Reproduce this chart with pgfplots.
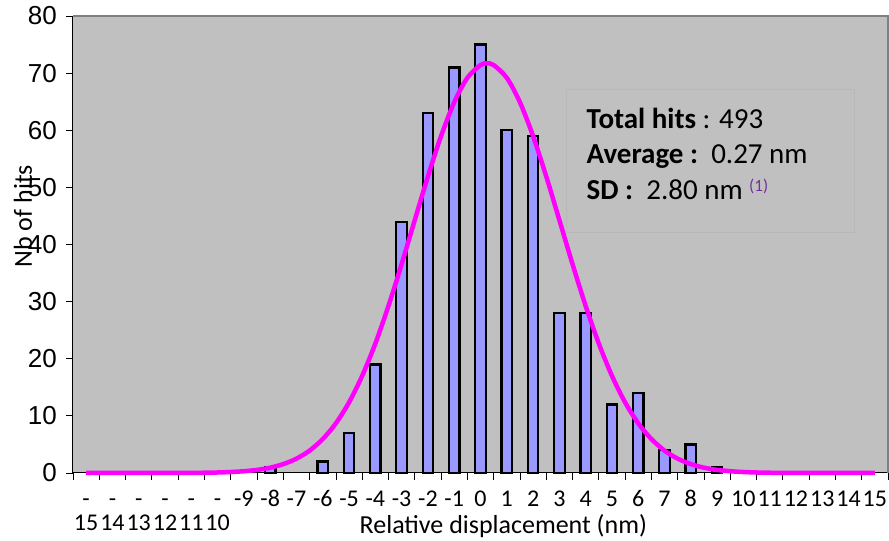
\documentclass[border=0pt]{standalone}
\usepackage{fontspec}
\setmainfont{Carlito}
\newfontfamily\arialf{Liberation Sans}
\usepackage{pgfplots}
\pgfplotsset{compat=1.18}
\definecolor{bgray}{HTML}{C0C0C0}
\definecolor{boxgray}{HTML}{B8B8B8}
\definecolor{framegray}{HTML}{808080}
\definecolor{barblue}{HTML}{9999FF}
\definecolor{curvemag}{HTML}{FF00FF}
\definecolor{purp}{HTML}{7030A0}
\begin{document}
\begin{tikzpicture}
\begin{axis}[
  name=ax,
  scale only axis, width=815bp, height=457bp,
  xmin=-15.5, xmax=15.5, ymin=0, ymax=80,
  clip=false,
  axis lines*=left,
  axis line style={black, line width=1bp},
  axis background/.style={fill=bgray},
  tick align=outside,
  xtick={-15,...,15},
  xticklabels={{\strut-\\15},{\strut-\\14},{\strut-\\13},{\strut-\\12},{\strut-\\11},{\strut-\\10},
    \strut-9,\strut-8,\strut-7,\strut-6,\strut-5,\strut-4,\strut-3,\strut-2,\strut-1,\strut0,
    \strut1,\strut2,\strut3,\strut4,\strut5,\strut6,\strut7,\strut8,\strut9,\strut10,\strut11,
    \strut12,\strut13,\strut14,\strut15},
  major x tick style={draw=none},
  minor xtick={-15.5,-14.5,...,15.5},
  minor tick length=7bp,
  minor x tick style={black, line width=0.8bp},
  ytick={0,10,...,80},
  major tick length=7bp,
  major y tick style={black, line width=0.8bp},
  /pgf/number format/assume math mode=true,
  xticklabel style={font=\fontsize{24bp}{24.5bp}\selectfont, align=center, anchor=north, inner sep=0bp, yshift=-9bp},
  yticklabel style={font=\arialf\fontsize{26bp}{26bp}\selectfont, anchor=east, inner sep=0bp, xshift=-9bp},
  xlabel={Relative displacement (nm)},
  xlabel style={font=\fontsize{26bp}{26bp}\selectfont, at={(axis description cs:0.528,0)}, anchor=base, yshift=-61bp},
  ylabel={Nb of hits},
  ylabel style={font=\fontsize{26bp}{26bp}\selectfont, at={(axis description cs:-0.0614,0.562)}, anchor=center, rotate=0},
]
\draw[framegray, line width=2bp] (rel axis cs:0,1) -- (rel axis cs:1,1) -- (rel axis cs:1,0);
\draw[boxgray, line width=0.8bp, fill=bgray] (axis cs:3.26,67.1) rectangle (axis cs:14.22,42.2);
\addplot[ybar, bar width=10.5bp, fill=barblue, draw=black, line width=2.2bp] coordinates {
(-8,1) (-6,2) (-5,7) (-4,19) (-3,44) (-2,63) (-1,71) (0,75) (1,60) (2,59)
(3,28) (4,28) (5,12) (6,14) (7,4) (8,5) (9,1)
};
\addplot[smooth, curvemag, line width=4.5bp] coordinates {
(-15,0) (-14,0) (-13,0) (-12,0.005) (-11.5,0.011) (-11,0.022) (-10.5,0.045)
(-10,0.088) (-9.5,0.17) (-9,0.31) (-8.5,0.54) (-8,0.93) (-7.5,1.56) (-7,2.51)
(-6.5,3.92) (-6,5.94) (-5.5,8.70) (-5,12.36) (-4.5,17.01) (-4,22.66) (-3.5,29.25)
(-3,36.56) (-2.5,44.27) (-2,51.92) (-1.5,58.98) (-1,64.90) (-0.5,69.18) (0,71.41)
(0.25,71.70) (0.5,71.41) (1,69.18) (1.5,64.90) (2,58.98) (2.5,51.92) (3,44.27)
(3.5,36.56) (4,29.25) (4.5,22.66) (5,17.01) (5.5,12.36) (6,8.70) (6.5,5.94)
(7,3.92) (7.5,2.51) (8,1.56) (8.5,0.93) (9,0.54) (9.5,0.31) (10,0.17)
(10.5,0.088) (11,0.045) (11.5,0.022) (12,0.011) (12.5,0.005) (13,0) (14,0) (15,0)
};
\node[anchor=base west, inner sep=0, font=\fontsize{29bp}{29bp}\selectfont] at (axis cs:4.03,60.34) {\textbf{Total hits} : 493};
\node[anchor=base west, inner sep=0, font=\fontsize{29bp}{29bp}\selectfont] at (axis cs:4.03,54.21) {\textbf{Average :}\ \ 0.27 nm};
\node[anchor=base west, inner sep=0, font=\fontsize{29bp}{29bp}\selectfont] at (axis cs:4.03,47.91) {\textbf{SD :}\ \ 2.80 nm \raisebox{8bp}{\fontsize{17bp}{17bp}\selectfont\color{purp}(1)}};
\end{axis}
\pgfresetboundingbox
\path[use as bounding box] ([shift={(-73bp,-68bp)}]ax.south west) rectangle ([shift={(1bp,16bp)}]ax.north east);
\end{tikzpicture}
\end{document}
